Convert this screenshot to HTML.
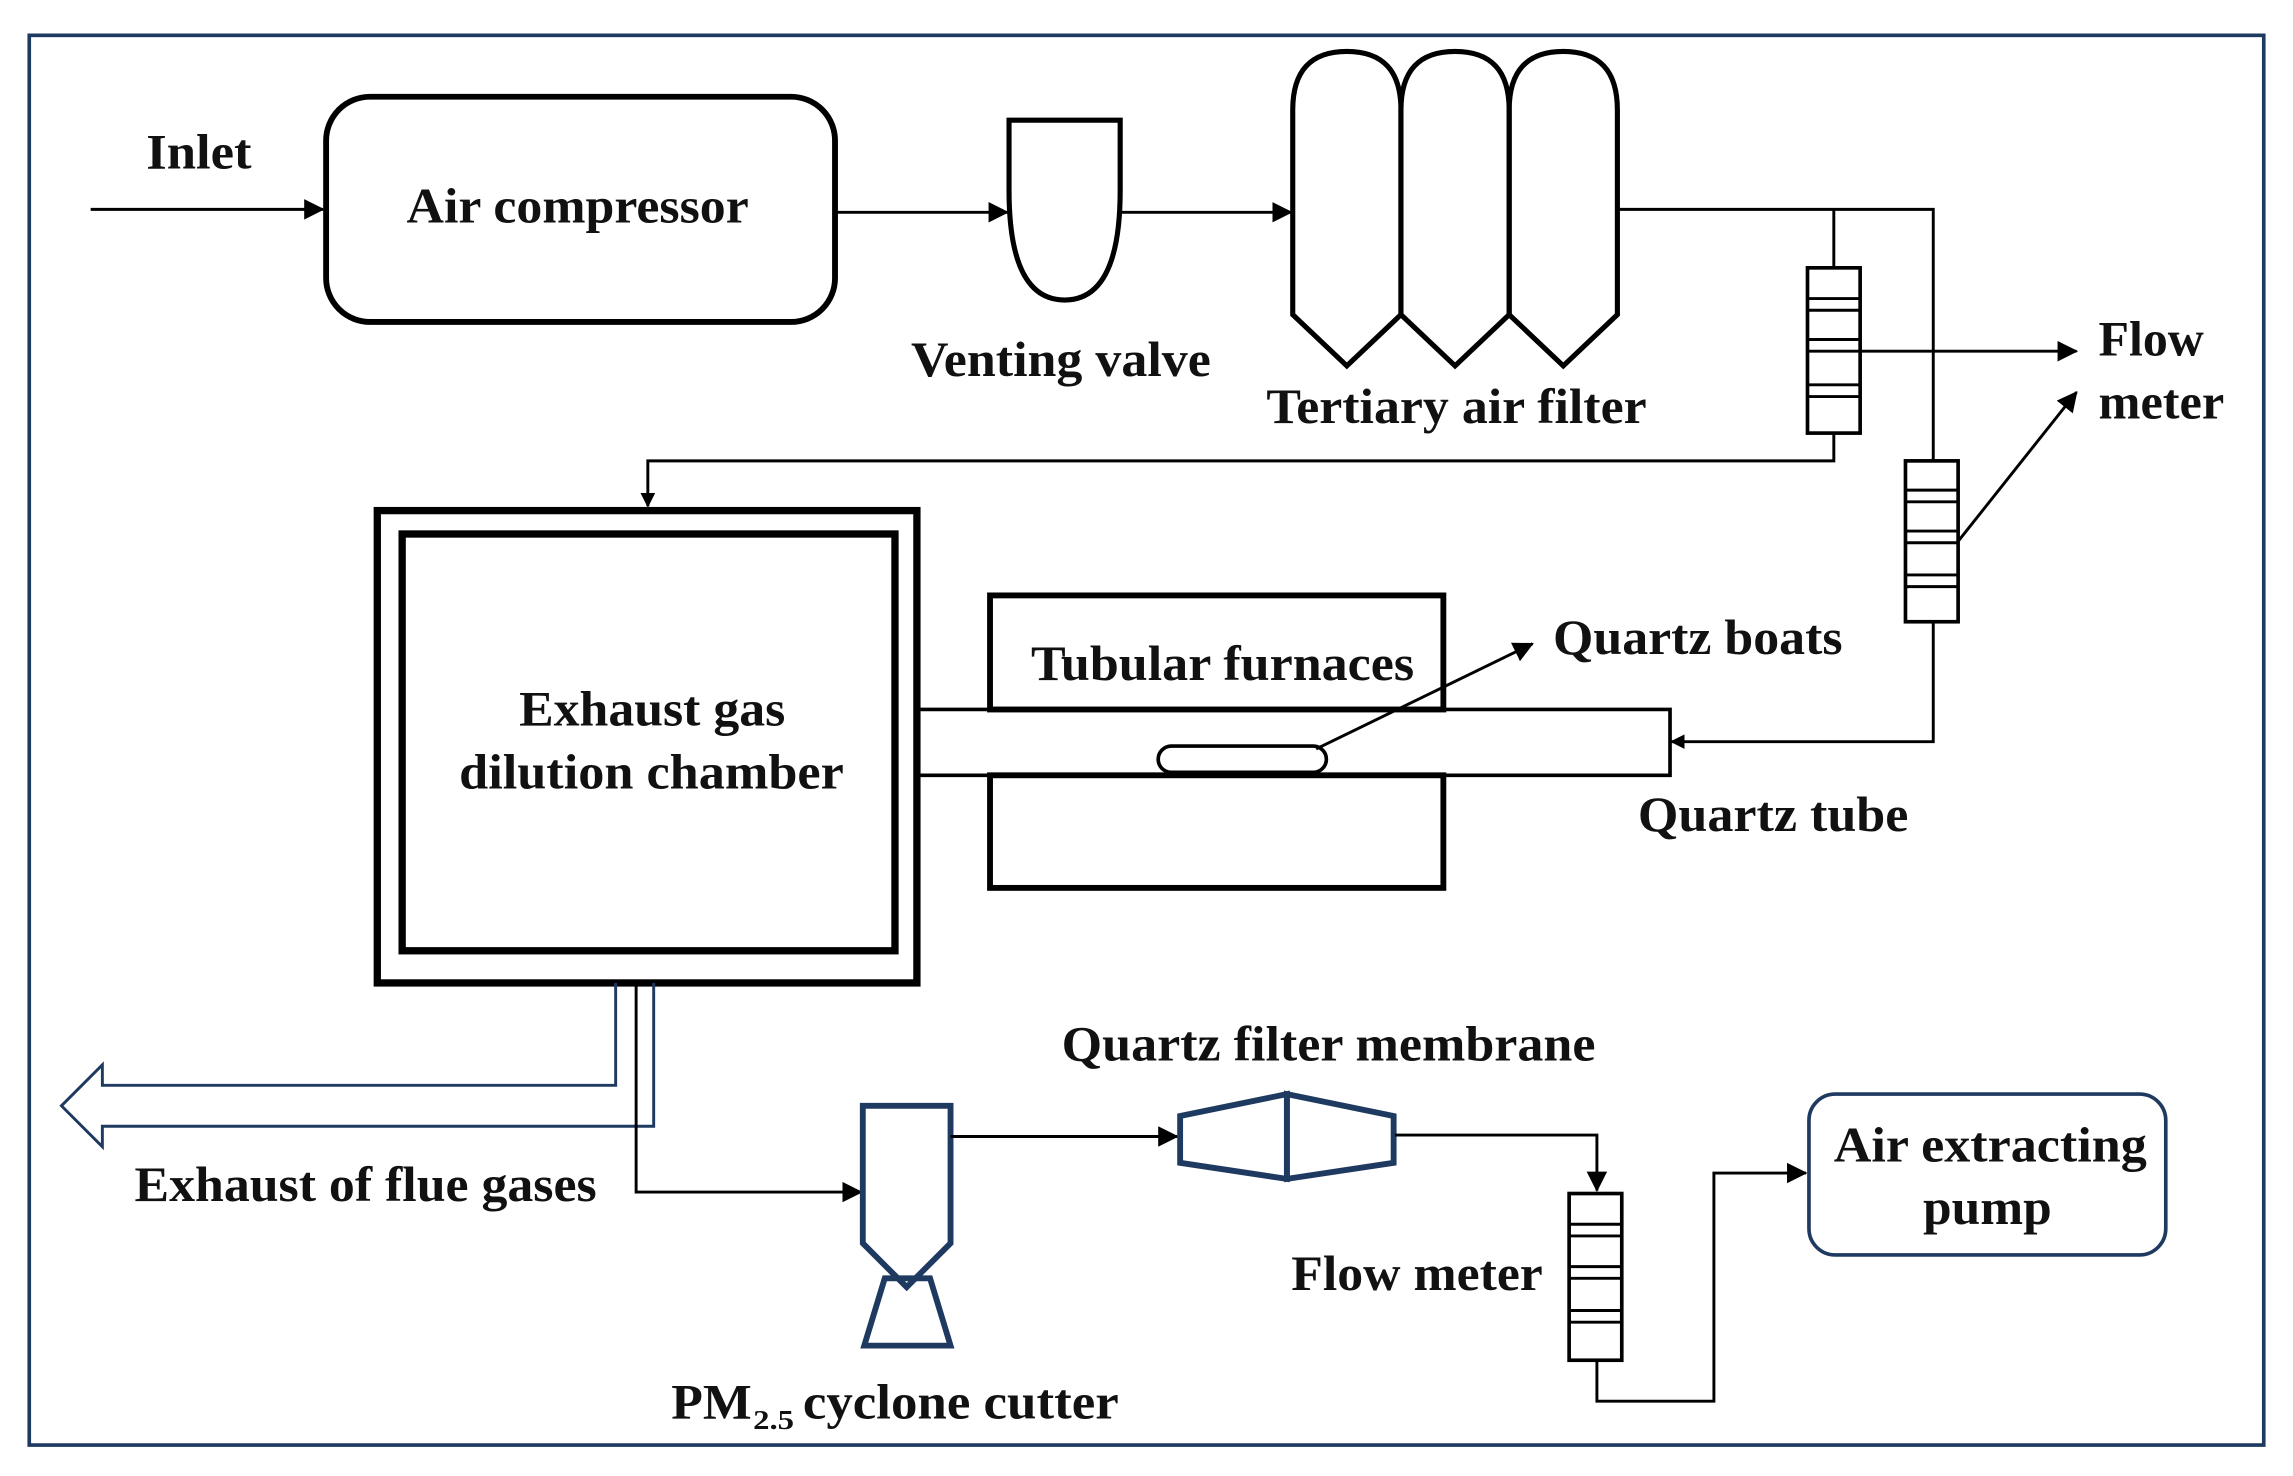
<!DOCTYPE html>
<html><head><meta charset="utf-8"><style>
html,body{margin:0;padding:0;background:#fff;}
svg{display:block;}
text{font-family:"Liberation Serif",serif;font-weight:bold;fill:#111;font-size:34px;}
</style></head><body>
<svg width="2293" height="1476" viewBox="0 0 1568 1009" xmlns="http://www.w3.org/2000/svg">
<defs>
<marker id="a" markerWidth="10" markerHeight="10" refX="9" refY="5" orient="auto" markerUnits="userSpaceOnUse"><path d="M0,0 L10,5 L0,10 Z" fill="#000"/></marker>
<marker id="b" markerWidth="14" markerHeight="14" refX="13" refY="7" orient="auto" markerUnits="userSpaceOnUse"><path d="M0,0 L14,7 L0,14 Z" fill="#000"/></marker>
</defs>
<rect x="20" y="24" width="1528" height="964" fill="none" stroke="#1f3a60" stroke-width="2.5"/>
<g fill="none" stroke="#000">
<line x1="62" y1="143" x2="221" y2="143" stroke-width="2" marker-end="url(#b)"/>
<rect x="223" y="66" width="348" height="154" rx="30" stroke-width="4"/>
<line x1="572" y1="145" x2="689" y2="145" stroke-width="2" marker-end="url(#b)"/>
<path d="M690,82 H766 V130 Q766,205 728,205 Q690,205 690,130 Z" stroke-width="3.5"/>
<line x1="766" y1="145" x2="883" y2="145" stroke-width="2" marker-end="url(#b)"/>
<path d="M884,215 V75 Q884,35 921,35 Q958,35 958,75 V215 L921,250 Z" stroke-width="3.5"/>
<path d="M958,215 V75 Q958,35 995,35 Q1032,35 1032,75 V215 L995,250 Z" stroke-width="3.5"/>
<path d="M1032,215 V75 Q1032,35 1069,35 Q1106,35 1106,75 V215 L1069,250 Z" stroke-width="3.5"/>
<polyline points="1106,143 1322,143 1322,315" stroke-width="2"/>
<line x1="1254" y1="143" x2="1254" y2="183" stroke-width="2"/>
<polyline points="1254,296 1254,315 443,315 443,346" stroke-width="2" marker-end="url(#a)"/>
<polyline points="1322,425 1322,507 1143,507" stroke-width="2" marker-end="url(#a)"/>
<rect x="1236" y="183" width="36" height="113" stroke-width="2.5"/>
<g stroke-width="2"><line x1="1236" y1="204" x2="1272" y2="204"/><line x1="1236" y1="212" x2="1272" y2="212"/><line x1="1236" y1="232" x2="1272" y2="232"/><line x1="1236" y1="240" x2="1272" y2="240"/><line x1="1236" y1="263" x2="1272" y2="263"/><line x1="1236" y1="271" x2="1272" y2="271"/></g>
<rect x="1303" y="315" width="36" height="110" stroke-width="2.5"/>
<g stroke-width="2"><line x1="1303" y1="335" x2="1339" y2="335"/><line x1="1303" y1="343" x2="1339" y2="343"/><line x1="1303" y1="363" x2="1339" y2="363"/><line x1="1303" y1="371" x2="1339" y2="371"/><line x1="1303" y1="393" x2="1339" y2="393"/><line x1="1303" y1="401" x2="1339" y2="401"/></g>
<line x1="1272" y1="240" x2="1420" y2="240" stroke-width="2" marker-end="url(#b)"/>
<line x1="1339" y1="370" x2="1420" y2="268" stroke-width="2" marker-end="url(#b)"/>
<rect x="258" y="349" width="369" height="323" stroke-width="5"/>
<rect x="275" y="365" width="337" height="285" stroke-width="5"/>
<rect x="677" y="407" width="310" height="78" stroke-width="4"/>
<rect x="677" y="530" width="310" height="77" stroke-width="4"/>
<polyline points="627,485 1142,485 1142,530 627,530" stroke-width="2.5"/>
<rect x="792" y="510" width="115" height="18" rx="9" stroke-width="2.5"/>
<line x1="900" y1="512" x2="1048" y2="440" stroke-width="2" marker-end="url(#b)"/>
<path d="M421,672 V742 H70 V728 L42,756 L70,784 V770 H447 V672" stroke="#1f3a60" stroke-width="2"/>
<polyline points="435,672 435,815 589,815" stroke-width="2" marker-end="url(#b)"/>
<path d="M590,756 H650 V850 L620,880 L590,850 Z" stroke="#1f3a60" stroke-width="4"/>
<path d="M605,874 H636 L650,920 H591 Z" stroke="#1f3a60" stroke-width="4"/>
<line x1="650" y1="777" x2="805" y2="777" stroke-width="2" marker-end="url(#b)"/>
<path d="M807,763 L880,748 V806 L807,795 Z" stroke="#1f3a60" stroke-width="4"/>
<path d="M880,748 L953,763 V795 L880,806 Z" stroke="#1f3a60" stroke-width="4"/>
<polyline points="954,776 1092,776 1092,814" stroke-width="2" marker-end="url(#b)"/>
<rect x="1073" y="816" width="36" height="114" stroke-width="2.5"/>
<g stroke-width="2"><line x1="1073" y1="837" x2="1109" y2="837"/><line x1="1073" y1="845" x2="1109" y2="845"/><line x1="1073" y1="866" x2="1109" y2="866"/><line x1="1073" y1="874" x2="1109" y2="874"/><line x1="1073" y1="896" x2="1109" y2="896"/><line x1="1073" y1="904" x2="1109" y2="904"/></g>
<polyline points="1092,930 1092,958 1172,958 1172,802 1235,802" stroke-width="2" marker-end="url(#b)"/>
<rect x="1237" y="748" width="244" height="110" rx="18" stroke="#1f3a60" stroke-width="2.5"/>
</g>
<g>
<text x="100" y="115" textLength="72" lengthAdjust="spacingAndGlyphs">Inlet</text>
<text x="278" y="152" textLength="234" lengthAdjust="spacingAndGlyphs">Air compressor</text>
<text x="623" y="257" textLength="205" lengthAdjust="spacingAndGlyphs">Venting valve</text>
<text x="866" y="289" textLength="260" lengthAdjust="spacingAndGlyphs">Tertiary air filter</text>
<text x="1435" y="243" textLength="72" lengthAdjust="spacingAndGlyphs">Flow</text>
<text x="1435" y="286" textLength="86" lengthAdjust="spacingAndGlyphs">meter</text>
<text x="355" y="496" textLength="182" lengthAdjust="spacingAndGlyphs">Exhaust gas</text>
<text x="314" y="539" textLength="263" lengthAdjust="spacingAndGlyphs">dilution chamber</text>
<text x="705" y="465" textLength="262" lengthAdjust="spacingAndGlyphs">Tubular furnaces</text>
<text x="1062" y="447" textLength="198" lengthAdjust="spacingAndGlyphs">Quartz boats</text>
<text x="1120" y="568" textLength="185" lengthAdjust="spacingAndGlyphs">Quartz tube</text>
<text x="92" y="821" textLength="316" lengthAdjust="spacingAndGlyphs">Exhaust of flue gases</text>
<text x="726" y="725" textLength="365" lengthAdjust="spacingAndGlyphs">Quartz filter membrane</text>
<text x="1254" y="794" textLength="214" lengthAdjust="spacingAndGlyphs">Air extracting</text>
<text x="1315" y="837" textLength="88" lengthAdjust="spacingAndGlyphs">pump</text>
<text x="883" y="882" textLength="172" lengthAdjust="spacingAndGlyphs">Flow meter</text>
<text x="459" y="970" textLength="55" lengthAdjust="spacingAndGlyphs">PM</text>
<text x="515" y="977" style="font-size:19px" textLength="28" lengthAdjust="spacingAndGlyphs">2.5</text>
<text x="549" y="970" textLength="216" lengthAdjust="spacingAndGlyphs">cyclone cutter</text>
</g>
</svg>
</body></html>
